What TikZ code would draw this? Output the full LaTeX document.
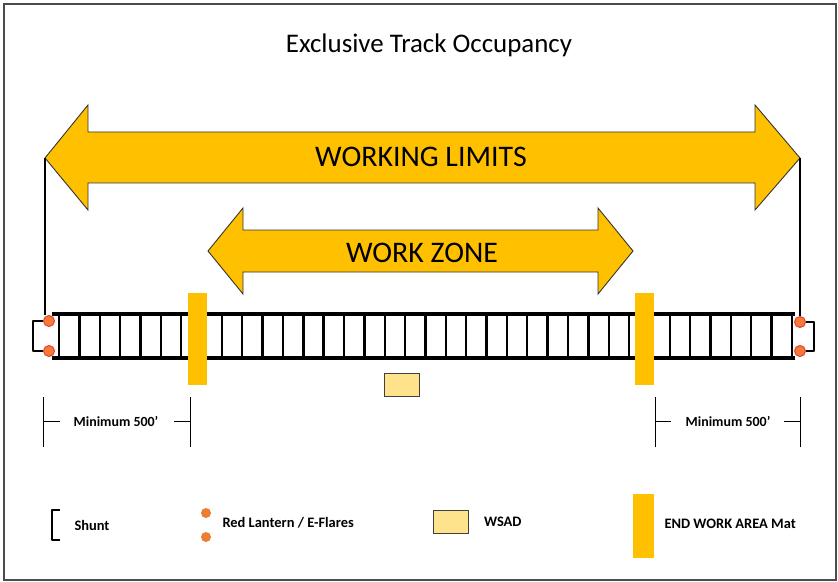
\documentclass[tikz,border=0pt]{standalone}
\usepackage{fontspec}
\setmainfont{Carlito}
\usetikzlibrary{positioning}

\definecolor{matgold}{HTML}{FFC000}
\definecolor{lampred}{HTML}{E8402A}
\definecolor{lampfill}{HTML}{F47B3A}
\definecolor{flare}{HTML}{ED7D31}
\definecolor{wsadfill}{HTML}{FFE28C}

\begin{document}
\begin{tikzpicture}[
  x=1bp, y=-1bp,
  every node/.style={font=\bfseries\fontsize{14.5}{16}\selectfont},
  big/.style={font=\fontsize{30}{32}\selectfont, anchor=base},
  limit/.style={draw=black!80, line width=0.9pt, fill=matgold},
  rail/.style={line width=5pt},
  tie/.style={line width=2.4pt},
  mat/.style={fill=matgold},
  lamp/.style={circle, draw=lampred, line width=1pt, fill=lampfill, minimum size=11bp, inner sep=0pt},
  shunt/.style={line width=1.2pt, line join=round},
  dim/.style={line width=1pt},
  mindist/.style={font=\bfseries\fontsize{14}{16}\selectfont},
  wsad/.style={draw=black!75, line width=1pt, fill=wsadfill, minimum width=35bp, minimum height=23bp, inner sep=0pt},
  legend/.style={anchor=west}
]
\useasboundingbox (0,0) rectangle (838,582);
\draw[black!70, line width=1.2pt] (4,4) rectangle (836,580);

\node[font=\fontsize{27}{30}\selectfont, anchor=base] (title) at (429,53) {Exclusive Track Occupancy};

% block arrows
\draw[limit] (45,158) -- (88,105) -- (88,132) -- (755,132) -- (755,105) -- (800,158)
  -- (755,210) -- (755,183) -- (88,183) -- (88,210) -- cycle;
\coordinate (wl west) at (45,158);
\coordinate (wl east) at (800,158);
\node[big] (limits) at (421,167) {WORKING LIMITS};

\draw[limit] (208,251) -- (243,208) -- (243,230) -- (598,230) -- (598,208) -- (633,251)
  -- (598,294) -- (598,272) -- (243,272) -- (243,294) -- cycle;
\node[big] (zone) at (422,262) {WORK ZONE};

% track
\foreach \i in {0,...,36}
  \draw[tie] ({59+\i*20.36},314) -- ++(0,44);
\draw[rail] (52,314) -- (795,314);
\draw[rail] (52,358) -- (795,358);

% end work area mats
\fill[mat] (188,293) rectangle (207,385);
\fill[mat] (635,293) rectangle (654,385);

% lanterns and shunts
\node[lamp] (lampNW) at (49,321) {};
\node[lamp] (lampSW) at (49,351) {};
\node[lamp] (lampNE) at (800,322) {};
\node[lamp] (lampSE) at (800,351) {};
\draw[line width=1.5pt] (wl west) -- (wl west |- lampNW.north);
\draw[line width=1.5pt] (wl east) -- (lampNE.north);
\draw[shunt] (lampNW.west) -- ++(-10,0) |- (lampSW.west);
\draw[shunt] (lampNE.east) -- ++(8,0) |- (lampSE.east);

\node[wsad] (wsadbox) at (401.5,384.5) {};

% minimum distances
\node[mindist] (minL) at (116,421) {Minimum 500’};
\draw[dim] (43,397) -- (43,447);
\draw[dim] (190,397) -- (190,447);
\draw[dim] (43,421) -- (60,421);
\draw[dim] (174,421) -- (190,421);

\node[mindist] (minR) at (728,421) {Minimum 500’};
\draw[dim] (655,397) -- (655,447);
\draw[dim] (800,397) -- (800,447);
\draw[dim] (655,421) -- (671,421);
\draw[dim] (784,421) -- (800,421);

% legend
\draw[shunt, line width=1.5pt] (60,510) -- (52,510) -- (52,540) -- (60,540);
\node[legend] (shuntlbl) at (71,525) {Shunt};
\fill[flare] (206,513) circle (5);
\fill[flare] (206,537) circle (5);
\node[legend] (flarelbl) at (219,523) {Red Lantern / E-Flares};
\node[wsad] (wsadkey) at (450.5,522) {};
\node[legend, right=12bp of wsadkey] (wsadlbl) {WSAD};
\fill[mat] (633,494) rectangle (654,558);
\node[legend] (matlbl) at (661,524) {END WORK AREA Mat};
\end{tikzpicture}
\end{document}
